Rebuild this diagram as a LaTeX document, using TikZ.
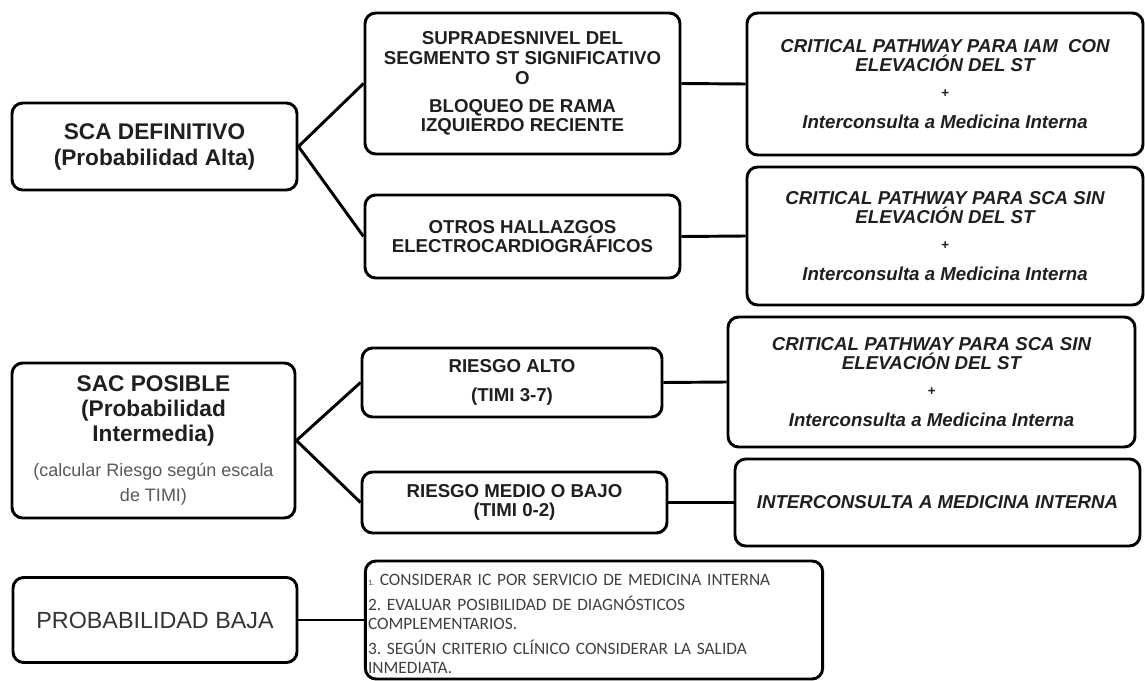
\documentclass[tikz,border=0pt]{standalone}
\usepackage{fontspec}
\setmainfont{Liberation Sans}
\newfontfamily\calibri{Carlito}
\newcommand{\timinote}{\fontsize{13.5}{16.5}\selectfont\mdseries\color{black!65}}

\begin{document}
\begin{tikzpicture}[x=0.75pt, y=-0.75pt, line width=2.2pt,
    main node/.style={rectangle, rounded corners=8pt, draw, fill=white, align=center, text=black!88, inner sep=2pt, font=\fontsize{14}{14.5}\selectfont\bfseries},
    big node/.style={main node, font=\fontsize{17}{19.5}\selectfont\bfseries},
    crit node/.style={main node, font=\fontsize{14}{14.5}\selectfont\bfseries\itshape},
    list node/.style={main node, align=left, text=black!75, inner xsep=2pt, font=\calibri\fontsize{13}{14.5}\selectfont\frenchspacing}]
            \useasboundingbox (0,0) rectangle (1145,681);

            % left column
            \node[big node, minimum width=213.75pt, minimum height=65.25pt] (sca) at (154.5,146.5) {SCA DEFINITIVO\\(Probabilidad Alta)};
            \node[big node, font=\fontsize{17}{18.75}\selectfont\bfseries, minimum width=212.25pt, minimum height=116.25pt] (sac) at (153.5,440.5) {SAC POSIBLE\\(Probabilidad\\Intermedia)\\[7pt]\timinote(calcular Riesgo según escala\\\timinote de TIMI)};
            \node[main node, font=\fontsize{17.5}{20}\selectfont, text=black!80, minimum width=213pt, minimum height=63.75pt] (baja) at (155,620) {PROBABILIDAD BAJA};

            % middle column
            \node[main node, minimum width=236.25pt, minimum height=105.75pt] (supra) at (522.5,83.5) {SUPRADESNIVEL DEL\\SEGMENTO ST SIGNIFICATIVO\\[1pt]O\\[6pt]BLOQUEO DE RAMA\\IZQUIERDO RECIENTE};
            \node[main node, minimum width=236.25pt, minimum height=62.25pt] (otros) at (522.5,236.5) {OTROS HALLAZGOS\\ELECTROCARDIOGRÁFICOS};
            \node[main node, minimum width=225pt, minimum height=51.75pt] (ralto) at (512,382.5) {RIESGO ALTO\\[7pt](TIMI 3-7)};
            \node[main node, minimum width=228.75pt, minimum height=45.75pt] (rmedio) at (514.5,502.5) {RIESGO MEDIO O BAJO\\(TIMI 0-2)};
            \node[list node, text width=339pt, minimum height=88.5pt] (lista) at (594,620) {\rule{0pt}{15pt}{\fontsize{6}{6}\selectfont 1.} CONSIDERAR IC POR SERVICIO DE MEDICINA INTERNA\\[4pt]2. EVALUAR POSIBILIDAD DE DIAGNÓSTICOS\\COMPLEMENTARIOS.\\[4pt]3. SEGÚN CRITERIO CLÍNICO CONSIDERAR LA SALIDA\\INMEDIATA.};

            % right column
            \node[crit node, minimum width=297pt, minimum height=106.5pt] (crit1) at (945,84) {CRITICAL PATHWAY PARA IAM\ \ CON\\ELEVACIÓN DEL ST\\[5pt]{\fontsize{10}{14.5}\selectfont +}\\[9pt]Interconsulta a Medicina Interna};
            \node[crit node, minimum width=297pt, minimum height=103.5pt] (crit2) at (945,236) {CRITICAL PATHWAY PARA SCA SIN\\ELEVACIÓN DEL ST\\[5pt]{\fontsize{10}{14.5}\selectfont +}\\[9pt]Interconsulta a Medicina Interna};
            \node[crit node, minimum width=305.25pt, minimum height=97.5pt] (crit3) at (931.5,382) {CRITICAL PATHWAY PARA SCA SIN\\ELEVACIÓN DEL ST\\[5pt]{\fontsize{10}{14.5}\selectfont +}\\[9pt]Interconsulta a Medicina Interna};
            \node[crit node, minimum width=303.75pt, minimum height=65.25pt] (inter) at (937.5,502.5) {INTERCONSULTA A MEDICINA INTERNA};

            \path
                (sca.east) edge (supra.west)
                           edge (otros.west)
                (sac.east) edge (ralto.west)
                           edge (rmedio.west)
                (baja.east) edge (lista.west)
                (supra.east) edge (crit1.west)
                (otros.east) edge (crit2.west)
                (ralto.east) edge (crit3.west)
                (rmedio.east) edge (inter.west);
        \end{tikzpicture}
\end{document}
